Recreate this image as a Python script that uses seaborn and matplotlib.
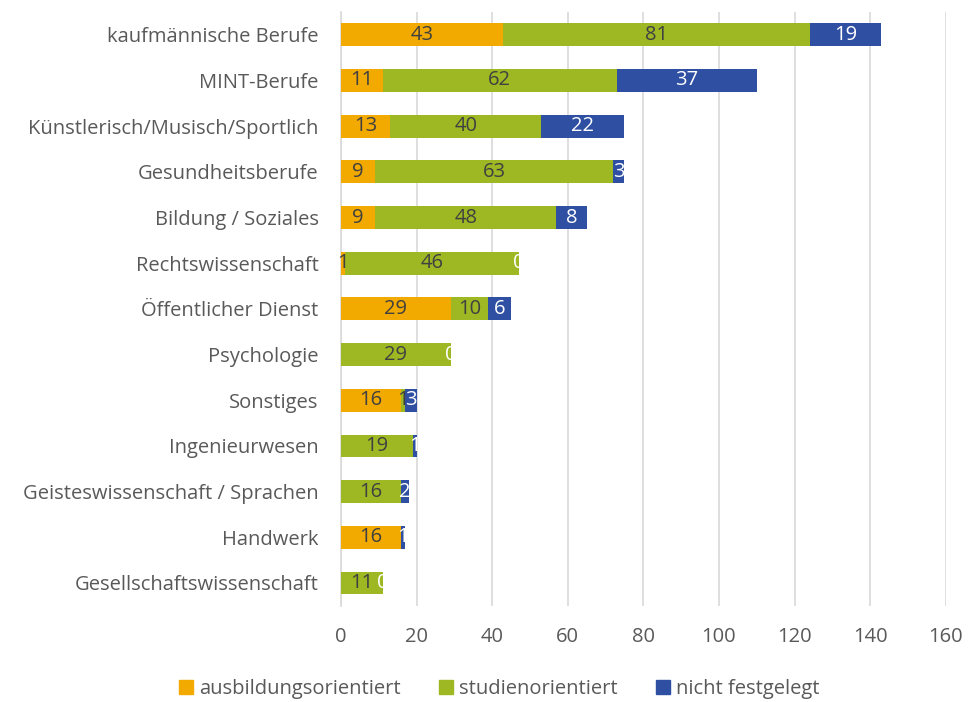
import pandas as pd
import numpy as np
import matplotlib
matplotlib.use("Agg")
import matplotlib.pyplot as plt
import seaborn as sb

categories = ["kaufmännische Berufe", "MINT-Berufe", "Künstlerisch/Musisch/Sportlich",
              "Gesundheitsberufe", "Bildung / Soziales", "Rechtswissenschaft",
              "Öffentlicher Dienst", "Psychologie", "Sonstiges", "Ingenieurwesen",
              "Geisteswissenschaft / Sprachen", "Handwerk", "Gesellschaftswissenschaft"]
# NaN = empty cell (no label shown)
ausbildung = [43, 11, 13, 9, 9, 1, 29, np.nan, 16, np.nan, np.nan, 16, np.nan]
studium = [81, 62, 40, 63, 48, 46, 10, 29, 1, 19, 16, np.nan, 11]
offen = [19, 37, 22, 3, 8, 0, 6, 0, 3, 1, 2, 1, 0]
series_names = ["ausbildungsorientiert", "studienorientiert", "nicht festgelegt"]

colors = ["#F2A900", "#9DB823", "#2E4FA2"]
label_colors = ["#404040", "#404040", "white"]

df = pd.DataFrame({"kat": categories, "a": ausbildung, "s": studium, "o": offen})
vals = df[["a", "s", "o"]].fillna(0)
df["c1"] = vals["a"]
df["c2"] = vals["a"] + vals["s"]
df["c3"] = vals["a"] + vals["s"] + vals["o"]

plt.rcParams["font.family"] = ["Open Sans", "DejaVu Sans"]
fig = plt.figure(figsize=(9.7, 7.02), dpi=100)
ax = fig.add_axes([0.3515, 0.137, 0.6235, 0.846])

# draw cumulative totals back to front so each segment shows
for col, c in zip(["c3", "c2", "c1"], colors[::-1]):
    sb.barplot(data=df, x=col, y="kat", color=c, width=0.5, ax=ax,
               saturation=1, orient="h", zorder=3)

# segment labels
for i, row in df.iterrows():
    starts = [0, row["c1"], row["c2"]]
    for j, key in enumerate(["a", "s", "o"]):
        v = row[key]
        if pd.isna(v):
            continue
        ax.text(starts[j] + v / 2, i, f"{int(v)}", ha="center", va="center",
                fontsize=14.5, color=label_colors[j], zorder=5)

ax.set_xlim(0, 160)
ax.set_ylim(12.5, -0.5)
ax.set_xticks(range(0, 161, 20))
ax.xaxis.grid(True, color="#D9D9D9", linewidth=1.2, zorder=0)
ax.set_axisbelow(True)
ax.set_xlabel("")
ax.set_ylabel("")
for s in ax.spines.values():
    s.set_visible(False)
ax.spines["left"].set_visible(True)
ax.spines["left"].set_color("#D9D9D9")
ax.spines["left"].set_linewidth(1.2)
ax.tick_params(axis="both", length=0, labelsize=14.5, colors="#595959")
ax.tick_params(axis="x", pad=15)
ax.tick_params(axis="y", pad=16)

handles = [plt.Rectangle((0, 0), 1, 1, color=c) for c in colors]
fig.legend(handles, series_names, loc="center", bbox_to_anchor=(0.515, 0.018),
           ncol=3, frameon=False, fontsize=14.5, handlelength=0.7, handleheight=0.7,
           columnspacing=1.9, handletextpad=0.3, labelcolor="#595959")

plt.savefig("out.png", dpi=100)
